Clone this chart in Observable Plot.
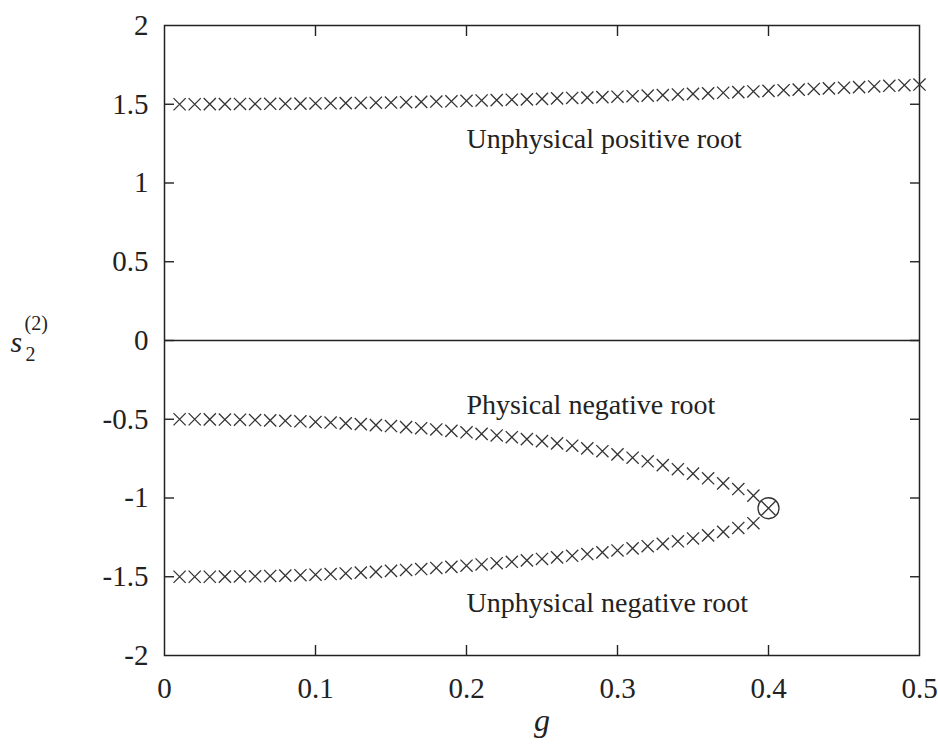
<!DOCTYPE html>
<html><head><meta charset="utf-8">
<script src="https://cdn.jsdelivr.net/npm/d3@7"></script>
<script src="https://cdn.jsdelivr.net/npm/@observablehq/plot@0.6"></script>
<style>body{margin:0;background:#fff}</style>
</head><body><div id="chart"></div>
<script>
// coupling g values for the positive root
const gPos = [0.01,0.02,0.03,0.04,0.05,0.06,0.07,0.08,0.09,0.10,
  0.11,0.12,0.13,0.14,0.15,0.16,0.17,0.18,0.19,0.20,
  0.21,0.22,0.23,0.24,0.25,0.26,0.27,0.28,0.29,0.30,
  0.31,0.32,0.33,0.34,0.35,0.36,0.37,0.38,0.39,0.40,
  0.41,0.42,0.43,0.44,0.45,0.46,0.47,0.48,0.49,0.50];
const sPos = [1.500,1.500,1.501,1.501,1.502,1.502,1.503,1.503,1.504,1.505,
  1.506,1.507,1.508,1.510,1.511,1.513,1.515,1.517,1.519,1.522,
  1.524,1.526,1.529,1.531,1.534,1.537,1.540,1.542,1.545,1.548,
  1.551,1.555,1.558,1.562,1.566,1.569,1.573,1.577,1.581,1.585,
  1.589,1.593,1.597,1.601,1.605,1.609,1.613,1.617,1.621,1.625];
// coupling g values for the two negative roots
const gNeg = [0.01,0.02,0.03,0.04,0.05,0.06,0.07,0.08,0.09,0.10,
  0.11,0.12,0.13,0.14,0.15,0.16,0.17,0.18,0.19,0.20,
  0.21,0.22,0.23,0.24,0.25,0.26,0.27,0.28,0.29,0.30,
  0.31,0.32,0.33,0.34,0.35,0.36,0.37,0.38,0.39];
const sPhys = [-0.500,-0.500,-0.501,-0.502,-0.503,-0.505,-0.507,-0.510,-0.513,-0.517,
  -0.521,-0.526,-0.531,-0.537,-0.543,-0.550,-0.557,-0.565,-0.574,-0.583,
  -0.593,-0.603,-0.614,-0.626,-0.639,-0.653,-0.668,-0.685,-0.703,-0.723,
  -0.744,-0.767,-0.791,-0.817,-0.845,-0.875,-0.907,-0.943,-0.985];
const sUnphysNeg = [-1.500,-1.500,-1.500,-1.499,-1.498,-1.497,-1.495,-1.493,-1.490,-1.487,
  -1.483,-1.479,-1.474,-1.469,-1.463,-1.457,-1.451,-1.444,-1.437,-1.430,
  -1.422,-1.414,-1.405,-1.396,-1.387,-1.377,-1.367,-1.356,-1.345,-1.333,
  -1.320,-1.306,-1.291,-1.275,-1.257,-1.237,-1.215,-1.190,-1.160];
// critical point where the negative roots merge
const gCrit = [0.40];
const sCrit = [-1.065];
// ticks
const xTicks = [0, 0.1, 0.2, 0.3, 0.4, 0.5];
const yTicks = [-2, -1.5, -1, -0.5, 0, 0.5, 1, 1.5, 2];
// annotations
const notes = ["Unphysical positive root", "Physical negative root", "Unphysical negative root"];
const noteG = [0.2, 0.2, 0.2];
const noteS = [1.28, -0.41, -1.67];
const xLabel = ["g"];
const yLabelBase = ["s"];
const yLabelSub = ["2"];
const yLabelSup = ["(2)"];

const ink = "#222";
const font = "'Liberation Serif', 'Times New Roman', Times, serif";
const pos = gPos.map((g, i) => ({g, s: sPos[i]}));
const phys = gNeg.map((g, i) => ({g, s: sPhys[i]}));
const unphys = gNeg.map((g, i) => ({g, s: sUnphysNeg[i]}));
const crit = gCrit.map((g, i) => ({g, s: sCrit[i]}));
const noteData = notes.map((t, i) => ({t, g: noteG[i], s: noteS[i]}));
const inner = a => a.slice(1, -1);
const tickOpts = {tickSize: -10, text: null, label: null, stroke: ink, strokeWidth: 1.4};
const crossOpts = {x: "g", y: "s", symbol: "times", r: 5.6, stroke: "#333", strokeWidth: 1.3};

const chart = Plot.plot({
  width: 938, height: 753,
  marginLeft: 164, marginRight: 19, marginTop: 25, marginBottom: 98,
  style: {fontFamily: font, color: ink, background: "#fff", overflow: "visible"},
  x: {domain: [0, 0.5]},
  y: {domain: [-2, 2]},
  marks: [
    Plot.ruleY([0], {stroke: ink, strokeWidth: 1.5}),
    Plot.axisX({anchor: "bottom", ticks: inner(xTicks), ...tickOpts}),
    Plot.axisX({anchor: "top", ticks: inner(xTicks), ...tickOpts}),
    Plot.axisY({anchor: "left", ticks: inner(yTicks), ...tickOpts}),
    Plot.axisY({anchor: "right", ticks: inner(yTicks), ...tickOpts}),
    Plot.axisX({anchor: "bottom", ticks: xTicks, tickSize: 0, tickPadding: 22, tickFormat: d => String(d), label: null, fontSize: 29, fontFamily: font, fill: ink}),
    Plot.axisY({anchor: "left", ticks: yTicks, tickSize: 0, tickPadding: 16, tickFormat: d => String(d), label: null, fontSize: 29, fontFamily: font, fill: ink}),
    Plot.frame({stroke: ink, strokeWidth: 1.5}),
    Plot.dot(pos, crossOpts),
    Plot.dot(phys, crossOpts),
    Plot.dot(unphys, crossOpts),
    Plot.dot(crit, {x: "g", y: "s", symbol: "circle", r: 10.5, stroke: "#333", strokeWidth: 1.3, fill: "none"}),
    Plot.dot(crit, {x: "g", y: "s", symbol: "times", r: 6.6, stroke: "#333", strokeWidth: 1.3}),
    Plot.text(noteData, {x: "g", y: "s", text: "t", textAnchor: "start", fontSize: 28, fontFamily: font, fill: ink}),
    Plot.text(xLabel, {frameAnchor: "bottom", dy: 75, fontSize: 32, fontStyle: "italic", fontFamily: font, fill: ink}),
    Plot.text(yLabelBase, {frameAnchor: "left", dx: -154, dy: 2, textAnchor: "start", fontSize: 30, fontStyle: "italic", fontFamily: font, fill: ink}),
    Plot.text(yLabelSub, {frameAnchor: "left", dx: -139, dy: 14, textAnchor: "start", fontSize: 20, fontFamily: font, fill: ink}),
    Plot.text(yLabelSup, {frameAnchor: "left", dx: -140, dy: -17, textAnchor: "start", fontSize: 20, fontFamily: font, fill: ink})
  ]
});
document.getElementById("chart").appendChild(chart);
</script>
</body></html>
